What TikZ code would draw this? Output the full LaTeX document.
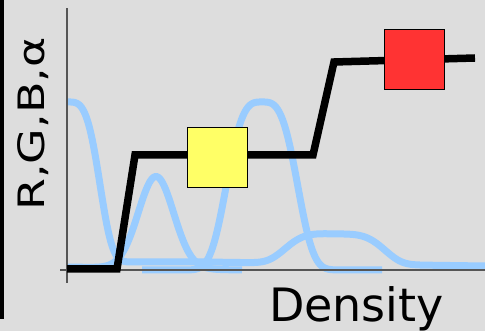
\documentclass[tikz,border=0pt]{standalone}
\usepackage{fontspec}
\setmainfont{DejaVu Sans}
\definecolor{bgcol}{HTML}{DDDDDD}
\definecolor{curvecol}{HTML}{99CCFF}
\definecolor{axiscol}{HTML}{555555}
\definecolor{yellowbox}{HTML}{FFFF66}
\definecolor{redbox}{HTML}{FF3333}
\begin{document}
\begin{tikzpicture}[x=1pt,y=-1pt,
  declare function={sgp(\x,\m,\s,\p)=exp(-min(15,pow(abs((\x-\m)/\s)+0.0001,\p)));},
  bluecurve/.style={draw=curvecol,line width=7pt},
  axisline/.style={draw=axiscol,line width=1.2pt},
  tfline/.style={draw=black,line width=7.5pt,line join=miter},
  ctrlbox/.style={draw=black,line width=1pt,minimum width=60pt,minimum height=60pt,inner sep=0pt},
  lbl/.style={font=\fontsize{46}{50}\selectfont,inner sep=0pt,anchor=base}]
\useasboundingbox[fill=bgcol] (0,0) rectangle (485,331);
\fill[black] (0,0) rectangle (3.5,319);
% density curves
\draw[bluecurve] plot[domain=67:212,samples=120,smooth] (\x,{262-160*sgp(\x,67,36,3.7)});
\draw[bluecurve] plot[domain=67:242,samples=120,smooth] (\x,{267+3*(\x-67)/175-92*sgp(\x,156,25,2)});
\draw[bluecurve] plot[domain=142:382,samples=160,smooth] (\x,{270-168*sgp(\x,262,40,3.3)});
\draw[bluecurve] plot[domain=205:485,samples=160,smooth] (\x,{262+4*(\x-205)/280-30*sgp(\x,335,54,4)});
% axes
\coordinate (ytop) at (67,8);
\coordinate (ybot) at (67,283);
\coordinate (xl) at (60,270);
\coordinate (xr) at (485,270);
\draw[axisline] (ybot) -- (ytop);
\draw[axisline] (xl) -- (xr);
% transfer function
\coordinate (p0) at (67,269);
\coordinate (p1) at (117,269);
\coordinate (p2) at (135,155);
\coordinate (p3) at (313,155);
\coordinate (p4) at (334,62);
\coordinate (p5) at (475,58);
\draw[tfline] (p0) -- (p1) -- (p2) -- (p3) -- (p4) -- (p5);
\node[ctrlbox,fill=yellowbox] (yb) at (217.5,158) {};
\node[ctrlbox,fill=redbox] (rb) at (414,60) {};
% labels
\node[lbl,rotate=90,yscale=0.79] (ylab) at (44,124) {R,G,B,α};
\node[lbl] (xlab) at (356.5,322) {Density};
\end{tikzpicture}
\end{document}
